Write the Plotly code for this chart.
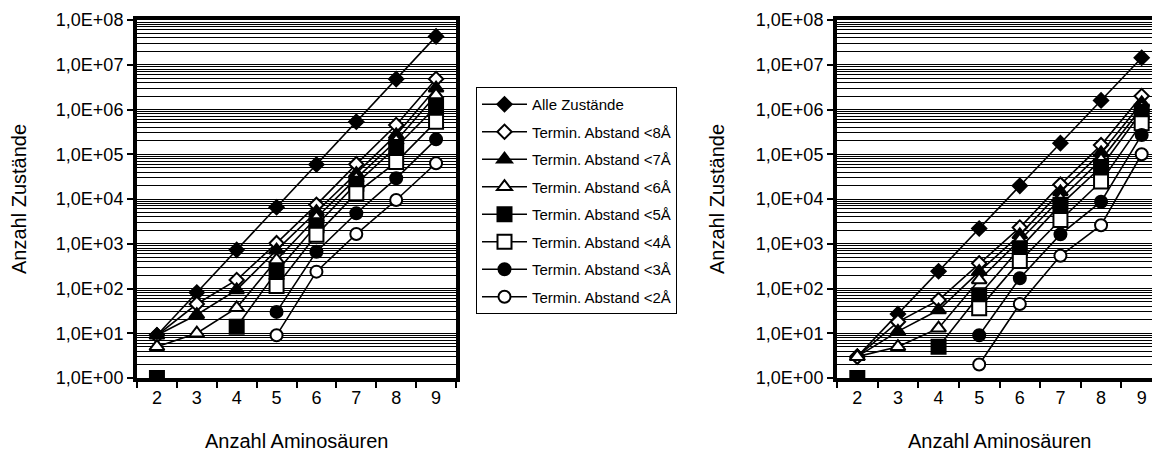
import plotly.graph_objects as go

# ---------------- data ----------------
amino = ["2", "3", "4", "5", "6", "7", "8", "9"]

series_names = [
    "Alle Zustände",
    "Termin. Abstand <8Å",
    "Termin. Abstand <7Å",
    "Termin. Abstand <6Å",
    "Termin. Abstand <5Å",
    "Termin. Abstand <4Å",
    "Termin. Abstand <3Å",
    "Termin. Abstand <2Å",
]

# left chart
alle_L = [9, 81, 729, 6561, 59049, 531441, 4782969, 43046721]
lt8_L = [9, 45, 155, 1030, 7400, 60000, 450000, 4800000]
lt7_L = [9, 26, 93, 720, 5200, 37000, 270000, 3000000]
lt6_L = [5, 10, 37, 435, 3800, 29000, 200000, 2100000]
lt5_L = [1, None, 14, 238, 2600, 22000, 145000, 1150000]
lt4_L = [None, None, None, 114, 1580, 13500, 67000, 535000]
lt3_L = [None, None, None, 30, 665, 4800, 29000, 215000]
lt2_L = [None, None, None, 9, 238, 1650, 9500, 63000]

# right chart
alle_R = [3, 27, 243, 2187, 19683, 177147, 1594323, 14348907]
lt8_R = [3, 18, 55, 365, 2300, 21000, 160000, 2000000]
lt7_R = [3, 11, 33, 238, 1580, 14500, 107000, 1400000]
lt6_R = [3, 5, 13, 155, 1200, 10000, 75000, 1100000]
lt5_R = [1, None, 5, 71, 790, 7400, 52000, 890000]
lt4_R = [None, None, None, 36, 410, 3400, 24500, 490000]
lt3_R = [None, None, None, 9, 170, 1620, 8700, 270000]
lt2_R = [None, None, None, 2, 45, 540, 2600, 100000]

y_tickvals = [1, 10, 100, 1e3, 1e4, 1e5, 1e6, 1e7, 1e8]
y_ticktext = ["1,0E+00", "1,0E+01", "1,0E+02", "1,0E+03", "1,0E+04",
              "1,0E+05", "1,0E+06", "1,0E+07", "1,0E+08"]

x_title = "Anzahl Aminosäuren"
y_title = "Anzahl Zustände"

# ---------------- styles ----------------
symbols = ["diamond", "diamond", "triangle-up", "triangle-up",
           "square", "square", "circle", "circle"]
fills = ["black", "white", "black", "white", "black", "white", "black", "white"]
sizes = [11, 11, 13, 13, 14, 14, 12, 12]

FONT = "Liberation Sans, Arial, sans-serif"

left_data = [alle_L, lt8_L, lt7_L, lt6_L, lt5_L, lt4_L, lt3_L, lt2_L]
right_data = [alle_R, lt8_R, lt7_R, lt6_R, lt5_R, lt4_R, lt3_R, lt2_R]

fig = go.Figure()

for i, name in enumerate(series_names):
    for data, xa, ya, show in [(left_data[i], "x", "y", True),
                               (right_data[i], "x2", "y2", False)]:
        fig.add_trace(go.Scatter(
            x=amino, y=data, name=name, xaxis=xa, yaxis=ya,
            legendgroup="g%d" % i,
            mode="lines+markers", showlegend=show, connectgaps=False,
            line=dict(color="black", width=1.6),
            marker=dict(symbol=symbols[i], size=sizes[i], color=fills[i],
                        line=dict(color="black", width=2)),
        ))

W, H = 1160, 455
OFF = 8  # the page body has an 8px default margin; place things in screen pixels


def px_x(v):
    return (v - OFF) / W


def px_y(v):
    return 1 - (v - OFF) / H


L1, R1 = px_x(137), px_x(456)
L2, R2 = px_x(837), px_x(1162)
YB, YT = px_y(378), px_y(20)

common_y = dict(
    type="log", range=[0, 8], tickvals=y_tickvals, ticktext=y_ticktext,
    ticks="outside", ticklen=6, tickwidth=1.5, tickcolor="black",
    showgrid=True, gridcolor="black", gridwidth=1,
    minor=dict(dtick="D1", showgrid=True, gridcolor="black", gridwidth=1, ticks=""),
    showline=True, linecolor="black", linewidth=4,
    zeroline=False, automargin=False,
    tickfont=dict(family=FONT, size=18, color="black"),
    domain=[YB, YT],
)
common_x = dict(
    type="category", categoryorder="array", categoryarray=amino,
    tickson="boundaries", ticks="outside", ticklen=6, tickwidth=1.5,
    tickcolor="black", showgrid=False, showline=True, linecolor="black",
    linewidth=4, mirror=True, zeroline=False, automargin=False,
    tickfont=dict(family=FONT, size=18, color="black"),
)

title_font = dict(family=FONT, size=20, color="black")

fig.update_layout(
    width=W, height=H,
    margin=dict(l=0, r=0, t=0, b=0),
    paper_bgcolor="white", plot_bgcolor="white",
    font=dict(family=FONT, color="black"),
    xaxis=dict(common_x, domain=[L1, R1], range=[-0.5, 7.5], anchor="y"),
    yaxis=dict(common_y, mirror=True, anchor="x"),
    xaxis2=dict(common_x, domain=[L2, R2], range=[-0.5, 7.5], anchor="y2"),
    yaxis2=dict(common_y, mirror=True, anchor="x2"),
    legend=dict(
        x=px_x(476), y=px_y(87), xanchor="left", yanchor="top",
        bordercolor="black", borderwidth=1, bgcolor="white",
        font=dict(family=FONT, size=15, color="black"),
        traceorder="grouped", tracegroupgap=5,
        itemwidth=45,
    ),
    annotations=[
        dict(text=x_title, x=(L1 + R1) / 2, y=px_y(453), xref="paper", yref="paper",
             xanchor="center", yanchor="bottom", borderpad=0,
             showarrow=False, font=title_font),
        dict(text=x_title, x=(L2 + R2) / 2, y=px_y(453), xref="paper", yref="paper",
             xanchor="center", yanchor="bottom", borderpad=0,
             showarrow=False, font=title_font),
        dict(text=y_title, x=px_x(19), y=(YB + YT) / 2, xref="paper", yref="paper",
             xanchor="center", yanchor="middle",
             textangle=-90, showarrow=False, font=title_font),
        dict(text=y_title, x=px_x(717), y=(YB + YT) / 2, xref="paper", yref="paper",
             xanchor="center", yanchor="middle",
             textangle=-90, showarrow=False, font=title_font),
    ],
)

fig.write_html("out.html")
